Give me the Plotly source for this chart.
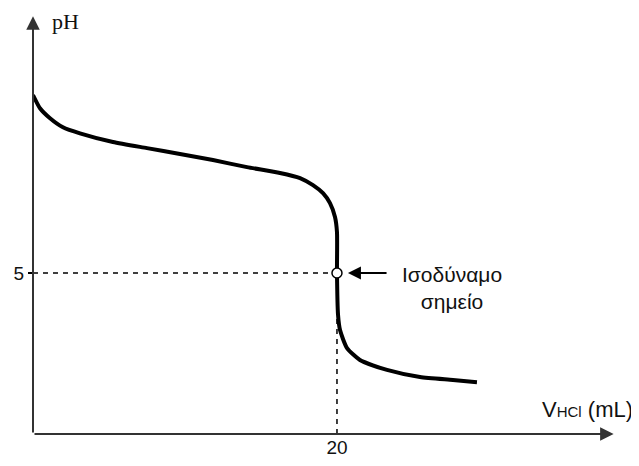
import plotly.graph_objects as go

# Titration curve (V in mL, pH)
volume_ml = [0.0, 0.46, 1.12, 1.97, 3.09, 5.26, 7.5, 9.67, 11.84, 14.08, 16.25, 17.57,
             18.42, 19.08, 19.54, 19.87, 20.0, 20.0, 20.07, 20.2, 20.66, 21.51, 23.29,
             25.46, 27.63, 29.21]
ph_values = [10.53, 10.12, 9.81, 9.53, 9.34, 9.07, 8.88, 8.70, 8.51, 8.29, 8.11, 7.95,
             7.73, 7.48, 7.17, 6.74, 6.27, 5.0, 3.70, 3.23, 2.67, 2.30, 1.99,
             1.77, 1.68, 1.61]

equiv_volume = [20]
equiv_ph = [5]

x_tickvals = [20]
x_ticktext = ["20"]
y_tickvals = [5]
y_ticktext = ["5"]

X_MAX = 38.95
Y_MAX = 13.14
X_ARROW_END = 38.2
Y_ARROW_END = 12.98

fig = go.Figure()

# dashed guide lines
fig.add_trace(go.Scatter(x=[0, equiv_volume[0]], y=[equiv_ph[0], equiv_ph[0]], mode="lines",
                         line=dict(color="black", width=1.5, dash="5px,5px"),
                         hoverinfo="skip", showlegend=False, cliponaxis=False))
fig.add_trace(go.Scatter(x=[equiv_volume[0], equiv_volume[0]], y=[0, equiv_ph[0]], mode="lines",
                         line=dict(color="black", width=1.5, dash="5px,5px"),
                         hoverinfo="skip", showlegend=False))

fig.add_trace(go.Scatter(x=volume_ml, y=ph_values, mode="lines",
                         line=dict(color="black", width=4, shape="spline", smoothing=0.6),
                         showlegend=False))

fig.add_trace(go.Scatter(x=equiv_volume, y=equiv_ph, mode="markers",
                         marker=dict(symbol="circle", size=10, color="white",
                                     line=dict(color="black", width=1.5)),
                         showlegend=False))

# axis arrows
fig.add_annotation(x=X_ARROW_END, y=0, ax=0, ay=0, xref="x", yref="y", axref="x", ayref="y",
                   text="", showarrow=True, arrowhead=2, arrowsize=1.35, arrowwidth=2,
                   arrowcolor="#333")
fig.add_annotation(x=0, y=Y_ARROW_END, ax=0, ay=0, xref="x", yref="y", axref="x", ayref="y",
                   text="", showarrow=True, arrowhead=2, arrowsize=1.35, arrowwidth=2,
                   arrowcolor="#333")

# equivalence point arrow
fig.add_annotation(x=20.72, y=5, ax=23.36, ay=5, xref="x", yref="y", axref="x", ayref="y",
                   text="", showarrow=True, arrowhead=2, arrowsize=1.3, arrowwidth=2,
                   arrowcolor="black")
fig.add_annotation(x=27.57, y=4.55, xref="x", yref="y", showarrow=False,
                   text="Ισοδύναμο<br>σημείο", align="center",
                   font=dict(family="Liberation Sans, Arial", size=21, color="#111"))

fig.add_annotation(x=2.17, y=12.82, xref="x", yref="y", showarrow=False, text="pH",
                   font=dict(family="Liberation Serif, Times New Roman", size=22, color="#111"))
fig.add_annotation(x=36.5, y=0.75, xref="x", yref="y", showarrow=False,
                   text="V<span style='font-size:15px'>HCl</span> (mL)",
                   font=dict(family="Liberation Sans, Arial", size=22, color="#111"))

fig.update_xaxes(range=[0, X_MAX], tickvals=x_tickvals, ticktext=x_ticktext,
                 showgrid=False, zeroline=False, showline=False, ticks="",
                 tickfont=dict(family="Liberation Sans, Arial", size=19, color="#111"))
fig.update_yaxes(range=[0, Y_MAX], tickvals=y_tickvals, ticktext=y_ticktext,
                 showgrid=False, zeroline=False, showline=False, ticks="outside",
                 ticklen=4, tickwidth=1.5, tickcolor="black",
                 tickfont=dict(family="Liberation Sans, Arial", size=19, color="#111"))

# page body has an 8px margin; offsets compensate so the plot lands where the reference has it
fig.update_layout(width=631, height=458, margin=dict(l=25, r=14, t=3, b=32),
                  plot_bgcolor="white", paper_bgcolor="white")

fig.write_html("out.html")
